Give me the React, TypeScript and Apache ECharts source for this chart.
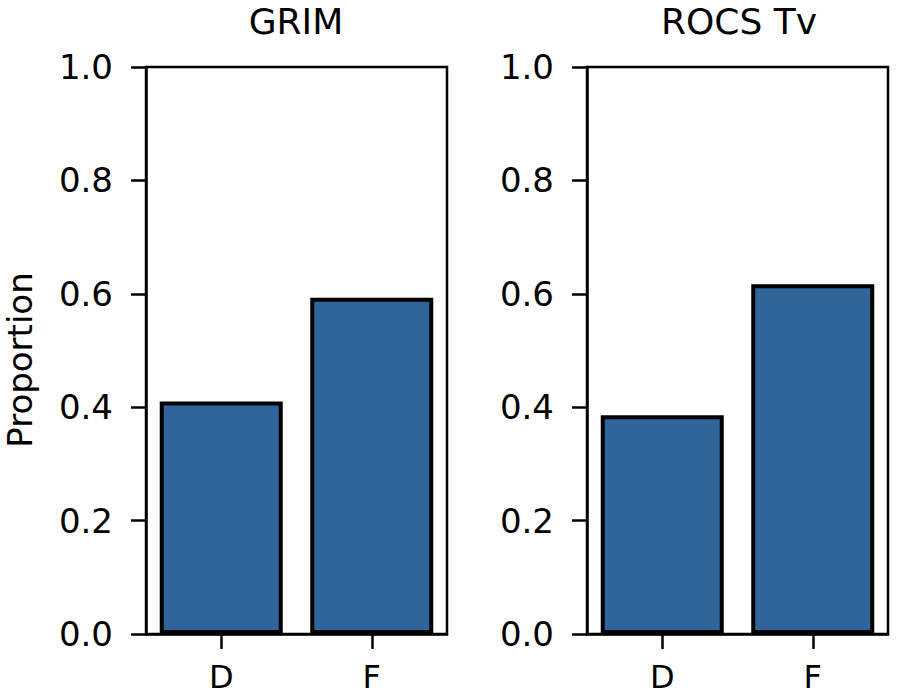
import React, { useEffect, useRef } from "react";
import * as echarts from "echarts";

const categories = ["D", "F"];
const panelTitles = ["GRIM", "ROCS Tv"];
const grimValues = [0.41, 0.593];
const rocsValues = [0.386, 0.617];
const yTicks = [0, 0.2, 0.4, 0.6, 0.8, 1.0];
const yLabel = "Proportion";

const FONT = "DejaVu Sans";
const BAR_COLOR = "#2f659b";

export default function App() {
  const ref = useRef<HTMLDivElement>(null);
  useEffect(() => {
    document.body.style.margin = "0";
    if (!ref.current) return;
    const chart = echarts.init(ref.current, null, { renderer: "svg" });
    const grids = [
      { left: 146, top: 67, width: 301, height: 567 },
      { left: 587, top: 67, width: 301, height: 567 },
    ];
    const titleX = [296, 739];
    const seriesData = [grimValues, rocsValues];
    chart.setOption({
      animation: false,
      backgroundColor: "#ffffff",
      grid: grids.map((g) => ({
        ...g,
        show: true,
        borderColor: "#000",
        borderWidth: 2.5,
        backgroundColor: "transparent",
      })),
      graphic: [
        {
          type: "text",
          x: 20,
          y: 360,
          rotation: Math.PI / 2,
          style: {
            text: yLabel,
            fontFamily: FONT,
            fontSize: 34,
            fill: "#000",
            textAlign: "center",
            textVerticalAlign: "middle",
          },
        },
        ...panelTitles.map((t, i) => ({
          type: "text",
          x: titleX[i],
          y: 21,
          style: {
            text: t,
            fontFamily: FONT,
            fontSize: 36,
            fill: "#000",
            textAlign: "center",
            textVerticalAlign: "middle",
          },
        })),
      ],
      xAxis: grids.map((_, i) => ({
        type: "category",
        gridIndex: i,
        data: categories,
        axisLine: { show: true, lineStyle: { color: "#000", width: 2.5 } },
        axisTick: { show: true, alignWithLabel: true, length: 15, lineStyle: { color: "#000", width: 2.5 } },
        axisLabel: { fontFamily: FONT, fontSize: 32, lineHeight: 32, color: "#000", margin: 27 },
        splitLine: { show: false },
      })),
      yAxis: grids.map((_, i) => ({
        type: "value",
        gridIndex: i,
        min: yTicks[0],
        max: yTicks[yTicks.length - 1],
        interval: 0.2,
        axisLine: { show: true, lineStyle: { color: "#000", width: 2.5 } },
        axisTick: { show: true, length: 15, lineStyle: { color: "#000", width: 2.5 } },
        axisLabel: {
          fontFamily: FONT,
          fontSize: 34,
          color: "#000",
          margin: 33,
          formatter: (v: number) => v.toFixed(1),
        },
        splitLine: { show: false },
      })),
      series: seriesData.map((d, i) => ({
        type: "bar",
        xAxisIndex: i,
        yAxisIndex: i,
        data: d,
        barWidth: 123,
        itemStyle: { color: BAR_COLOR, borderColor: "#000", borderWidth: 4 },
      })),
    });
    return () => chart.dispose();
  }, []);
  return <div ref={ref} style={{ width: 898, height: 695 }} />;
}
